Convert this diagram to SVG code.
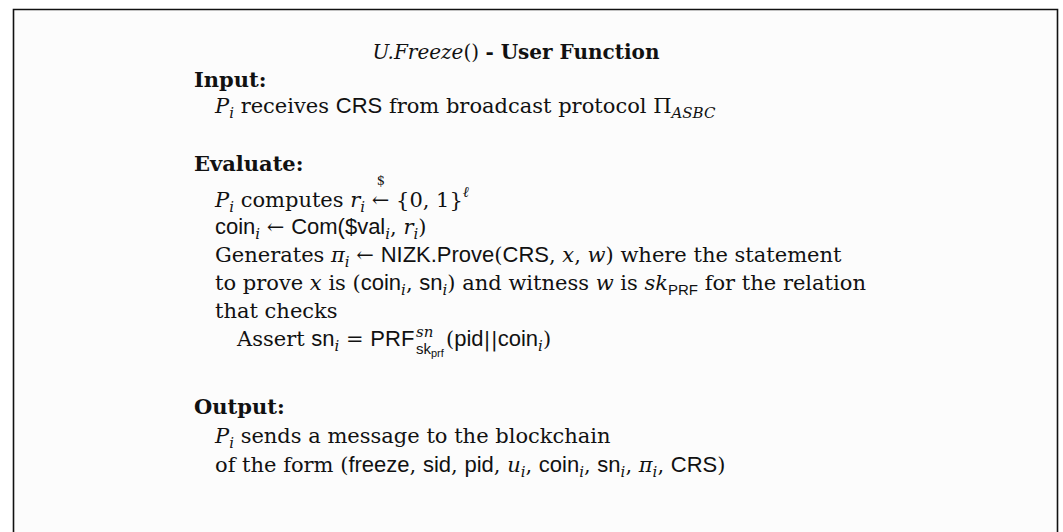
<svg xmlns="http://www.w3.org/2000/svg" width="1063" height="532" viewBox="0 0 1063 532">
<style>
  .t { font-family: "DejaVu Serif", serif; font-size: 21px; fill: #111; }
  .b { font-weight: bold; }
  .mi { font-style: italic; }
  .ss { font-family: "Liberation Sans", "DejaVu Sans", sans-serif; font-size: 22px; }
  .sm { font-size: 15px; }
  .xs { font-size: 11px; }
</style>
<rect width="1063" height="532" fill="#ffffff"/>
<!-- frame, open at the bottom edge -->
<path d="M13.5 540 V9.5 H1057.5 V540" fill="#fcfcfc" stroke="#111" stroke-width="1.6"/>

<g id="title">
  <text class="t" x="516" y="59" text-anchor="middle" style="font-size:20px"><tspan class="mi">U.Freeze</tspan>() <tspan class="b">- User Function</tspan></text>
</g>

<g id="input">
  <text class="t b" x="194" y="87">Input:</text>
  <text class="t" x="215" y="113"><tspan class="mi">P</tspan><tspan class="sm mi" dy="5">i</tspan><tspan dy="-5"> receives </tspan><tspan class="ss">CRS</tspan> from broadcast protocol Π<tspan class="sm mi" dy="5">ASBC</tspan></text>
</g>

<g id="evaluate">
  <text class="t b" x="194" y="171">Evaluate:</text>
  <!-- sampling arrow; the $ is stacked just above it -->
  <text class="t" x="381" y="185" text-anchor="middle" style="font-size:13px">$</text>
  <text class="t" x="215" y="207"><tspan class="mi">P</tspan><tspan class="sm mi" dy="5">i</tspan><tspan dy="-5"> computes </tspan><tspan class="mi">r</tspan><tspan class="sm mi" dy="5">i</tspan><tspan dy="-5"> ← {0, 1}</tspan><tspan class="sm mi" dy="-10">ℓ</tspan></text>
  <text class="t" x="215" y="234"><tspan class="ss">coin</tspan><tspan class="sm mi" dy="5">i</tspan><tspan dy="-5"> ← </tspan><tspan class="ss">Com($val</tspan><tspan class="sm mi" dy="5">i</tspan><tspan dy="-5">, </tspan><tspan class="mi">r</tspan><tspan class="sm mi" dy="5">i</tspan><tspan dy="-5">)</tspan></text>
  <text class="t" x="215" y="262">Generates <tspan class="mi">π</tspan><tspan class="sm mi" dy="5">i</tspan><tspan dy="-5"> ← </tspan><tspan class="ss">NIZK.Prove</tspan>(<tspan class="ss">CRS</tspan>, <tspan class="mi">x</tspan>, <tspan class="mi">w</tspan>) where the statement</text>
  <text class="t" x="215" y="290">to prove <tspan class="mi">x</tspan> is (<tspan class="ss">coin</tspan><tspan class="sm mi" dy="5">i</tspan><tspan dy="-5">, </tspan><tspan class="ss">sn</tspan><tspan class="sm mi" dy="5">i</tspan><tspan dy="-5">) and witness </tspan><tspan class="mi">w</tspan> is <tspan class="mi">sk</tspan><tspan class="ss sm" dy="5">PRF</tspan><tspan dy="-5"> for the relation</tspan></text>
  <text class="t" x="215" y="318">that checks</text>
  <text class="t" x="237" y="346">Assert <tspan class="ss">sn</tspan><tspan class="sm mi" dy="5">i</tspan><tspan dy="-5"> = </tspan><tspan class="ss">PRF</tspan></text>
  <text class="t sm mi" x="416" y="337">sn</text>
  <text class="ss sm" x="416" y="354" fill="#111">sk<tspan class="xs" dy="3">prf</tspan></text>
  <text class="t" x="446" y="346">(<tspan class="ss">pid</tspan>||<tspan class="ss">coin</tspan><tspan class="sm mi" dy="5">i</tspan><tspan dy="-5">)</tspan></text>
</g>

<g id="output">
  <text class="t b" x="194" y="414">Output:</text>
  <text class="t" x="215" y="443"><tspan class="mi">P</tspan><tspan class="sm mi" dy="5">i</tspan><tspan dy="-5"> sends a message to the blockchain</tspan></text>
  <text class="t" x="215" y="472">of the form (<tspan class="ss">freeze</tspan>, <tspan class="ss">sid</tspan>, <tspan class="ss">pid</tspan>, <tspan class="mi">u</tspan><tspan class="sm mi" dy="5">i</tspan><tspan dy="-5">, </tspan><tspan class="ss">coin</tspan><tspan class="sm mi" dy="5">i</tspan><tspan dy="-5">, </tspan><tspan class="ss">sn</tspan><tspan class="sm mi" dy="5">i</tspan><tspan dy="-5">, </tspan><tspan class="mi">π</tspan><tspan class="sm mi" dy="5">i</tspan><tspan dy="-5">, </tspan><tspan class="ss">CRS</tspan>)</text>
</g>
</svg>
